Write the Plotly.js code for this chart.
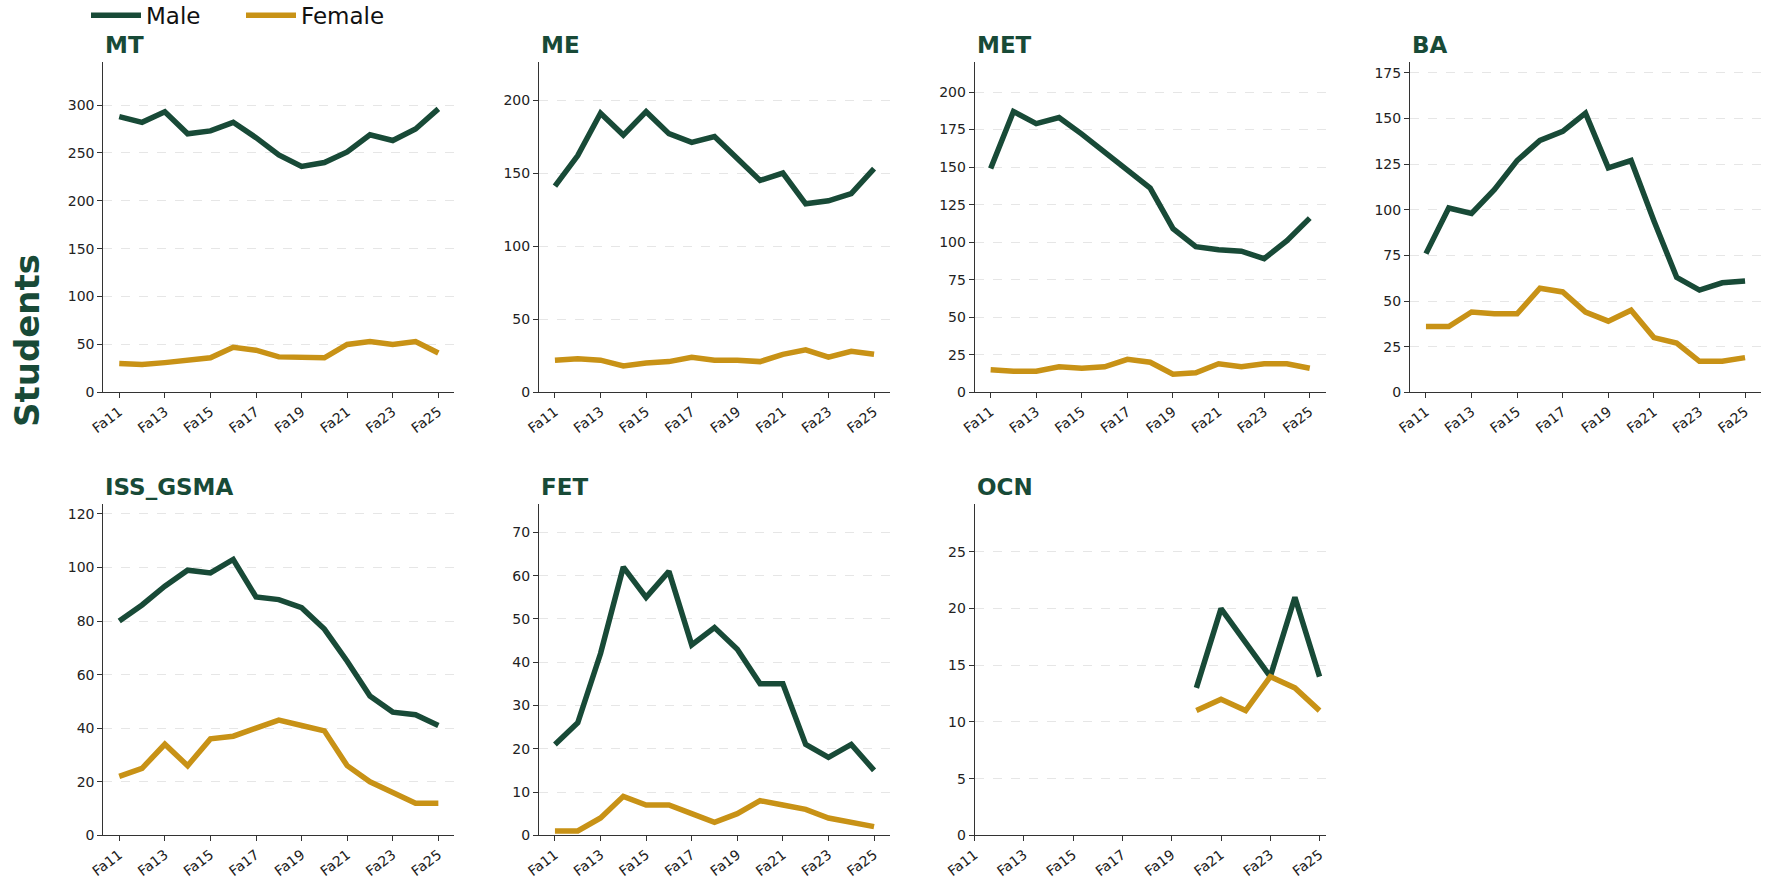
<!DOCTYPE html>
<html><head><meta charset="utf-8">
<script src="https://cdn.plot.ly/plotly-3.0.1.min.js"></script>
<style>html,body{margin:0;padding:0;background:#fff}#chart{width:1766px;height:880px}</style>
</head><body><div id="chart"></div><script>
const terms = ['Fa11','Fa12','Fa13','Fa14','Fa15','Fa16','Fa17','Fa18','Fa19','Fa20','Fa21','Fa22','Fa23','Fa24','Fa25'];
const tickTerms = ['Fa11','Fa13','Fa15','Fa17','Fa19','Fa21','Fa23','Fa25'];
const programs = ['MT','ME','MET','BA','ISS_GSMA','FET','OCN'];

const mtMale   = [288,282,293,270,273,282,266,248,236,240,251,269,263,275,296];
const mtFemale = [30,29,31,33,36,47,44,37,36,36,50,53,50,53,41];
const meMale   = [141,162,191,176,192,177,171,175,160,145,150,129,131,136,153];
const meFemale = [22,23,22,18,20,21,24,22,22,21,26,29,24,28,26];
const metMale  = [149,187,179,183,172,160,148,136,109,97,95,94,89,101,116];
const metFemale= [15,14,14,17,16,17,22,20,12,13,19,17,19,19,16];
const baMale   = [76,101,98,111,127,138,143,153,123,127,94,63,56,60,61];
const baFemale = [36,36,44,43,43,57,55,44,39,45,30,27,17,17,19];
const issMale  = [80,86,93,99,98,103,89,88,85,77,65,52,46,45,41];
const issFemale= [22,25,34,26,36,37,40,43,41,39,26,20,16,12,12];
const fetMale  = [21,26,42,62,55,61,44,48,43,35,35,21,18,21,15];
const fetFemale= [1,1,4,9,7,7,5,3,5,8,7,6,4,3,2];
const ocnMale  = [null,null,null,null,null,null,null,null,null,13,20,17,14,21,14];
const ocnFemale= [null,null,null,null,null,null,null,null,null,11,12,11,14,13,11];

const maleSeries = [mtMale, meMale, metMale, baMale, issMale, fetMale, ocnMale];
const femaleSeries = [mtFemale, meFemale, metFemale, baFemale, issFemale, fetFemale, ocnFemale];
const yMax = [345, 226, 220, 181, 123.6, 76.5, 29.2];
const yStep = [50, 50, 25, 25, 20, 10, 5];

const GREEN = '#184A37';
const GOLD = '#C89216';

const W = 1766, H = 880;
const colLeft = [103.3, 539, 974.7, 1410];
const plotW = 351;
const rowTop = [62, 504.3];
const plotH = [330.3, 331];

const traces = [];
const layout = {
  width: W, height: H,
  margin: {l:0, r:0, t:0, b:0, autoexpand: false},
  paper_bgcolor: '#fff', plot_bgcolor: '#fff',
  font: {family: 'DejaVu Sans', color: '#222', size: 14},
  showlegend: true,
  legend: {orientation: 'h', x: 86/W, xanchor: 'left',
           y: 1.007, yanchor: 'top',
           font: {size: 23, color: '#111'}, itemwidth: 50, entrywidth: 90,
           bgcolor: 'rgba(0,0,0,0)'},
  annotations: [],
  hovermode: false
};

programs.forEach((p, i) => {
  const row = Math.floor(i / 4), col = i % 4;
  const n = i + 1;
  const xa = 'x' + (n === 1 ? '' : n), ya = 'y' + (n === 1 ? '' : n);
  const xKey = 'xaxis' + (n === 1 ? '' : n), yKey = 'yaxis' + (n === 1 ? '' : n);
  const x0 = colLeft[col] / W, x1 = (colLeft[col] + plotW) / W;
  const yTop = 1 - rowTop[row] / H, yBot = 1 - (rowTop[row] + plotH[row]) / H;
  traces.push({x: terms, y: maleSeries[i], xaxis: xa, yaxis: ya, type: 'scatter', mode: 'lines',
    name: 'Male', legendgroup: 'Male', showlegend: i === 0, connectgaps: false,
    line: {color: GREEN, width: 5.5}});
  traces.push({x: terms, y: femaleSeries[i], xaxis: xa, yaxis: ya, type: 'scatter', mode: 'lines',
    name: 'Female', legendgroup: 'Female', showlegend: i === 0, connectgaps: false,
    line: {color: GOLD, width: 5.5}});
  const isOcn = p === 'OCN';
  layout[xKey] = {
    domain: [x0, x1], anchor: ya, type: 'category', categoryorder: 'array', categoryarray: terms,
    range: isOcn ? [0, 14.25] : [-0.7, 14.7],
    tickmode: 'array', tickvals: tickTerms, ticktext: tickTerms, tickangle: -37,
    ticks: 'outside', ticklen: 5, tickwidth: 1, tickcolor: '#333',
    showline: true, linecolor: '#333', linewidth: 1, showgrid: false, zeroline: false,
    tickfont: {size: 14, color: '#222'}, fixedrange: true
  };
  layout[yKey] = {
    domain: [yBot, yTop], anchor: xa, range: [0, yMax[i]],
    tickmode: 'linear', tick0: 0, dtick: yStep[i],
    ticks: 'outside', ticklen: 5, tickwidth: 1, tickcolor: '#333',
    showline: true, linecolor: '#333', linewidth: 1,
    showgrid: true, gridcolor: '#e6e6e6', griddash: 'dash', gridwidth: 1, zeroline: false,
    tickfont: {size: 14, color: '#222'}, fixedrange: true
  };
  layout.annotations.push({
    text: '<b>' + p + '</b>', xref: 'paper', yref: 'paper', x: x0, y: yTop,
    xanchor: 'left', yanchor: 'bottom', yshift: 2, showarrow: false,
    font: {size: 23, color: GREEN, family: 'DejaVu Sans'}
  });
});

layout.annotations.push({
  text: '<b>Students</b>', xref: 'paper', yref: 'paper', x: 27 / W, y: 1 - 341 / H,
  xanchor: 'center', yanchor: 'middle', textangle: -90, showarrow: false,
  font: {size: 34, color: GREEN, family: 'DejaVu Sans'}
});

Plotly.newPlot('chart', traces, layout, {displayModeBar: false, staticPlot: true});
</script></body></html>
